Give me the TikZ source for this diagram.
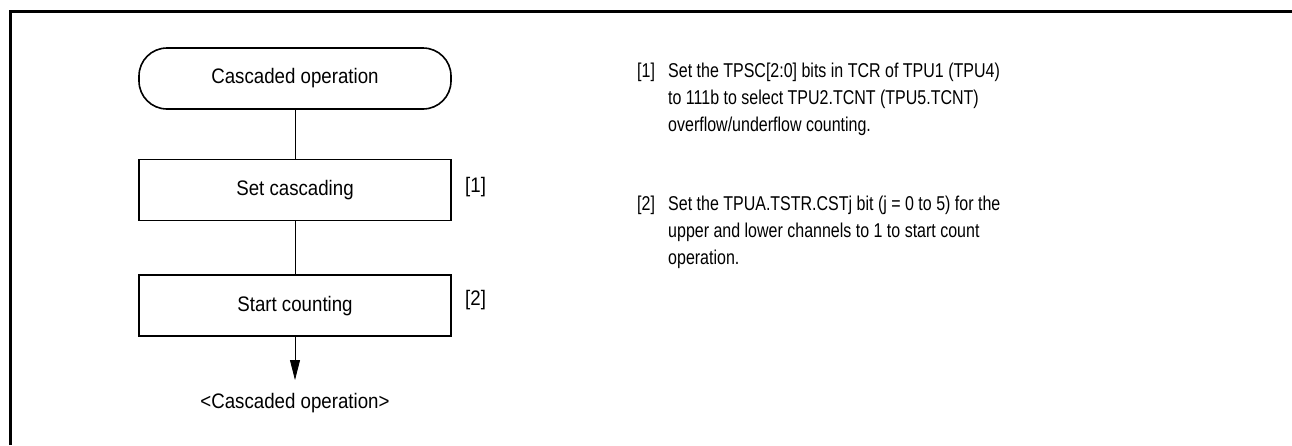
\documentclass[tikz,border=0pt]{standalone}
\usepackage{fontspec}
\setmainfont{Liberation Sans}[FakeStretch=0.89]
\newfontfamily\notefont{Liberation Sans}[FakeStretch=0.8]
\usetikzlibrary{positioning,arrows.meta}

\begin{document}
\begin{tikzpicture}[
  x=1pt, y=-1pt,
  font=\fontsize{21}{26.7}\selectfont,
  term/.style={draw, line width=1.6pt, rounded corners=28pt, minimum width=312pt, minimum height=61pt, inner sep=0pt},
  procbox/.style={draw, line width=1.6pt, minimum width=312pt, minimum height=61pt, inner sep=0pt},
  link/.style={line width=0.8pt},
  arr/.style={line width=0.8pt, -{Triangle[length=20pt, width=10pt]}},
  tag/.style={anchor=west, inner sep=0pt},
  note/.style={anchor=north west, align=left, inner sep=0pt, font=\notefont\fontsize{20}{26.7}\selectfont}
]
\useasboundingbox (0,0) rectangle (1292,445);
% frame
\draw[line width=3pt] (10.5,445) -- (10.5,11.5) -- (1292,11.5);

% flow
\node[term] (start) at (295,78.5) {Cascaded operation};
\node[procbox, below=49pt of start] (setc) {Set cascading};
\node[procbox, below=53pt of setc] (cnt) {Start counting};
\coordinate (done) at (295,380);
\node[inner sep=0pt, below=13pt of done] (donelab) {<Cascaded operation>};
\draw[link] (start) -- (setc);
\draw[link] (setc) -- (cnt);
\draw[arr] (cnt) -- (done);

\node[tag] (t1) at (465,187) {[1]};
\node[tag] (t2) at (465,300) {[2]};

% notes
\node[note] (n1) at (637,63) {[1]};
\node[note] (d1) at (668,63) {Set the TPSC[2:0] bits in TCR of TPU1 (TPU4)\\to 111b to select TPU2.TCNT (TPU5.TCNT)\\overflow/underflow counting.};
\node[note] (n2) at (637,196) {[2]};
\node[note] (d2) at (668,196) {Set the TPUA.TSTR.CSTj bit (j = 0 to 5) for the\\upper and lower channels to 1 to start count\\operation.};
\end{tikzpicture}
\end{document}
